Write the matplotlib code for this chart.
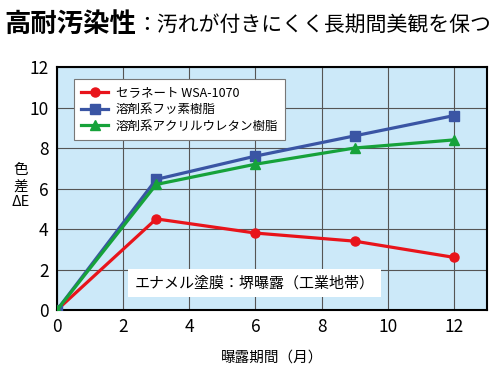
import matplotlib
matplotlib.use("Agg")
import matplotlib.pyplot as plt

plt.rcParams['font.family'] = ['Noto Sans CJK JP', 'DejaVu Sans']

months = [0, 3, 6, 9, 12]
series_names = ["セラネート WSA-1070", "溶剤系フッ素樹脂", "溶剤系アクリルウレタン樹脂"]
ceranate = [0, 4.5, 3.8, 3.4, 2.6]
fluoro = [0, 6.45, 7.6, 8.6, 9.6]
acryl = [0, 6.2, 7.2, 8.0, 8.4]
xticks = [0, 2, 4, 6, 8, 10, 12]
yticks = [0, 2, 4, 6, 8, 10, 12]

fig = plt.figure(figsize=(5.0, 3.76), dpi=100)
ax = fig.add_axes([0.114, 0.1755, 0.86, 0.6463])
ax.set_facecolor('#cce9f9')

ax.plot(months, ceranate, color='#e8141b', marker='o', markersize=6.5, lw=2.3, label=series_names[0], zorder=3)
ax.plot(months, fluoro, color='#3a55a4', marker='s', markersize=6.5, lw=2.3, label=series_names[1], zorder=3)
ax.plot(months, acryl, color='#16a23a', marker='^', markersize=7.5, lw=2.3, label=series_names[2], zorder=3)

ax.set_xlim(0, 13)
ax.set_ylim(0, 12)
ax.set_xticks(xticks)
ax.set_yticks(yticks)
ax.grid(True, color='#555555', lw=0.8)
ax.set_axisbelow(True)
for s in ax.spines.values():
    s.set_linewidth(1.5)
    s.set_color('black')
ax.tick_params(length=0, labelsize=12.5, pad=6)

leg = ax.legend(loc='upper left', bbox_to_anchor=(0.025, 0.975), fontsize=9,
                frameon=True, fancybox=False, edgecolor='#777777', framealpha=1,
                handlelength=2.2, borderpad=0.55, labelspacing=0.3, handletextpad=0.6)
leg.get_frame().set_linewidth(0.8)

ax.text(5.97, 1.33, "エナメル塗膜：堺曝露（工業地帯）", ha='center', va='center', fontsize=10.8,
        bbox=dict(facecolor='white', edgecolor='none', boxstyle='square,pad=0.45'), zorder=4)

ax.set_xlabel("曝露期間（月）", fontsize=10.5, labelpad=10)
fig.text(0.042, 0.505, "色\n差\nΔE", ha='center', va='center', fontsize=10.5, linespacing=1.15)

fig.text(0.008, 0.934, "高耐汚染性", fontsize=19, fontweight='bold', va='center', ha='left')
fig.text(0.272, 0.934, "：汚れが付きにくく長期間美観を保つ", fontsize=15, va='center', ha='left')

fig.savefig("out.png", dpi=100)
